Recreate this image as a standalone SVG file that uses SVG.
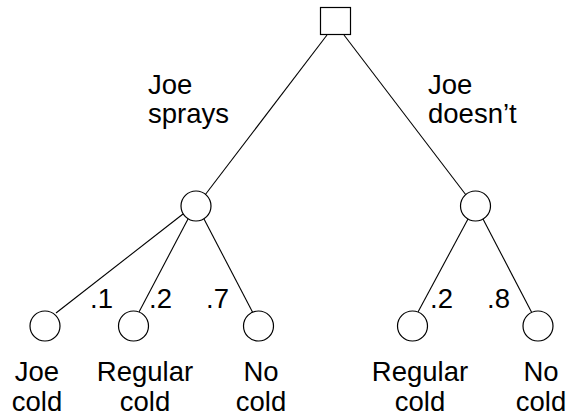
<svg xmlns="http://www.w3.org/2000/svg" width="566" height="416" viewBox="0 0 566 416">
  <style>
    .edge { stroke: #000; stroke-width: 1.1; fill: none; }
    .chance { fill: #fff; stroke: #000; stroke-width: 1.2; }
    .decision { fill: #fff; stroke: #000; stroke-width: 1.2; }
    text { font-family: "Liberation Sans", Arial, sans-serif; font-size: 27.5px; fill: #000; }
    .mid { text-anchor: middle; }
  </style>
  <rect width="566" height="416" fill="#fff"/>

  <!-- connectors -->
  <g id="connectors">
    <line class="edge" x1="327" y1="35" x2="205" y2="195"/>
    <line class="edge" x1="344" y1="35" x2="466" y2="195"/>
    <line class="edge" x1="183" y1="214" x2="56" y2="313"/>
    <line class="edge" x1="188" y1="219" x2="139" y2="312"/>
    <line class="edge" x1="204" y1="219" x2="253" y2="313"/>
    <line class="edge" x1="468" y1="219" x2="418" y2="312"/>
    <line class="edge" x1="483" y1="219" x2="532" y2="313"/>
  </g>

  <!-- branch labels -->
  <g id="branch-labels">
    <text x="148" y="94">Joe</text>
    <text x="148" y="123">sprays</text>
    <text x="428" y="94">Joe</text>
    <text x="428" y="123">doesn’t</text>
    <text x="90" y="308">.1</text>
    <text x="149" y="308">.2</text>
    <text x="206" y="308">.7</text>
    <text x="430" y="308">.2</text>
    <text x="487" y="308">.8</text>
  </g>

  <!-- decision node -->
  <g id="decision">
    <rect class="decision" x="320.5" y="7.5" width="30" height="27"/>
  </g>

  <!-- chance nodes -->
  <g id="spray-chance">
    <circle class="chance" cx="196" cy="206" r="15"/>
  </g>
  <g id="nospray-chance">
    <circle class="chance" cx="475.5" cy="206" r="15"/>
  </g>

  <!-- outcomes -->
  <g id="spray-joe-cold">
    <circle class="chance" cx="45" cy="326" r="15"/>
    <text class="mid" x="37" y="381">Joe</text>
    <text class="mid" x="37" y="411">cold</text>
  </g>
  <g id="spray-regular-cold">
    <circle class="chance" cx="133.5" cy="326" r="15"/>
    <text class="mid" x="145" y="381">Regular</text>
    <text class="mid" x="145" y="411">cold</text>
  </g>
  <g id="spray-no-cold">
    <circle class="chance" cx="258.5" cy="326" r="15"/>
    <text class="mid" x="261" y="381">No</text>
    <text class="mid" x="261" y="411">cold</text>
  </g>
  <g id="nospray-regular-cold">
    <circle class="chance" cx="412.5" cy="326" r="15"/>
    <text class="mid" x="420" y="381">Regular</text>
    <text class="mid" x="420" y="411">cold</text>
  </g>
  <g id="nospray-no-cold">
    <circle class="chance" cx="538" cy="326" r="15"/>
    <text class="mid" x="541" y="381">No</text>
    <text class="mid" x="541" y="411">cold</text>
  </g>
</svg>
